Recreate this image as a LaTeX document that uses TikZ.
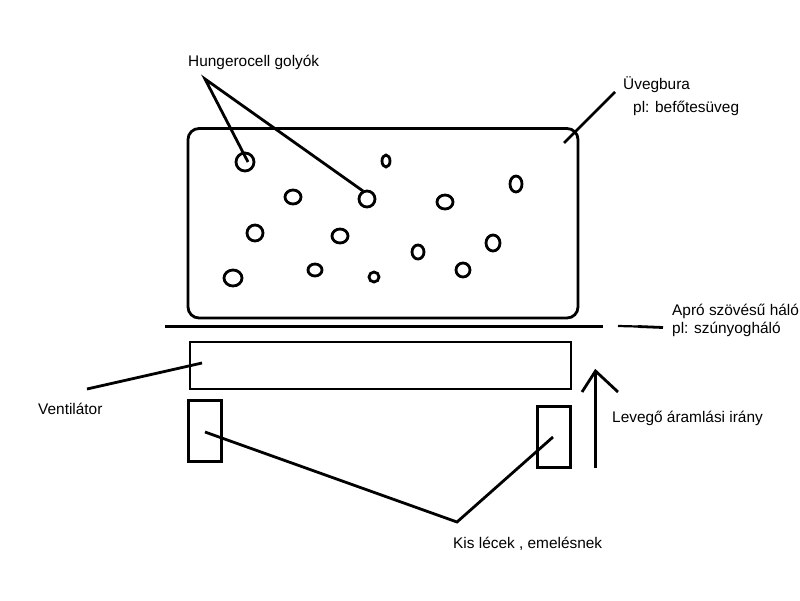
\documentclass[tikz,border=0pt]{standalone}
\usepackage{fontspec}
\setmainfont{Liberation Sans}
\tikzset{
  ink/.style={draw=black,line width=2.8pt},
  fanbox/.style={draw=black,line width=1.1pt,fill=white,inner sep=0pt},
  slat/.style={draw=black,line width=2.6pt,fill=white,inner sep=0pt,minimum width=33pt,minimum height=61pt},
  lbl/.style={anchor=base west,inner sep=0pt,font=\fontsize{15.4}{18}\selectfont}
}
\begin{document}
\begin{tikzpicture}[x=1pt,y=-1pt]
\useasboundingbox[fill=white] (0,0) rectangle (800,600);
% labels
\node[lbl] (hung) at (188,66.5) {Hungerocell golyók};
\node[lbl] (uveg) at (623,89) {Üvegbura};
\node[lbl] (pl1) at (633,112) {pl: befőtesüveg};
\node[lbl] (apro) at (672,315) {Apró szövésű háló};
\node[lbl] (pl2) at (672,333) {pl: szúnyogháló};
\node[lbl] (vent) at (38,414) {Ventilátor};
\node[lbl] (lev) at (612,422) {Levegő áramlási irány};
\node[lbl] (kis) at (453,548) {Kis lécek , emelésnek};
% jar
\draw[ink,rounded corners=11pt] (188,128.5) rectangle (578,318);
% beads
\foreach \x/\y/\rx/\ry in {245/162/9/9,386/161/4/6,293/197/8/7,367/199/8/8,445/202/8/7,516/184/6/8,255/233/8/8,340/236/8/7,418/252/6/7,493/243/7/8,233/278/9/8,315/270/7/6,374/277/5/5,463/270/7/7}
  \draw[ink] (\x,\y) ellipse[x radius=\rx,y radius=\ry];
% pointers
\coordinate (apex) at (205,79);
\coordinate (ba) at (248,162);
\coordinate (bd) at (363,191);
\draw[ink] (ba) -- (apex) -- (bd);
\coordinate (u1) at (615,92); \coordinate (u2) at (564,143);
\draw[ink] (u1) -- (u2);
% mesh
\coordinate (m1) at (165,326.5); \coordinate (m2) at (603,326.5);
\draw[draw=black,line width=3pt] (m1) -- (m2);
\coordinate (m3) at (618,326); \coordinate (m4) at (638,326.5);
\draw[draw=black,line width=2.2pt] (m3) -- (m4);
\coordinate (m6) at (663,327.5);
\draw[ink] (m4) -- (m6);
% fan
\node[fanbox,minimum width=381pt,minimum height=47pt] (fan) at (380.5,365.5) {};
\coordinate (v1) at (87,389); \coordinate (v2) at (202,363);
\draw[ink] (v1) -- (v2);
% slats
\node[slat] (s1) at (205,431) {};
\node[slat] (s2) at (554,437) {};
\coordinate (k0) at (457,522); \coordinate (k1) at (205,432); \coordinate (k2) at (553,437);
\draw[ink] (k1) -- (k0) -- (k2);
% arrow
\coordinate (a1) at (595.5,468); \coordinate (a2) at (595.5,371);
\coordinate (a3) at (582,392); \coordinate (a4) at (618,392);
\draw[draw=black,line width=3pt] (a1) -- (a2);
\draw[ink] (a3) -- (a2) -- (a4);
\end{tikzpicture}
\end{document}
